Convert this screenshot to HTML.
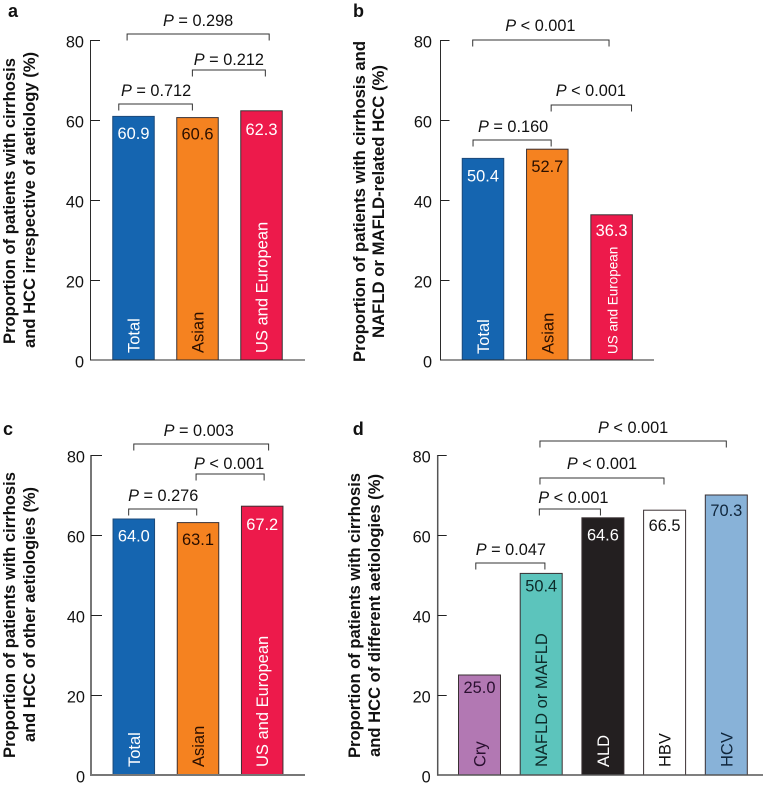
<!DOCTYPE html>
<html lang="en">
<head>
<meta charset="utf-8">
<title>Proportion of patients with cirrhosis and HCC</title>
<style>
html,body{margin:0;padding:0;background:#fff;}
svg{display:block;font-family:"Liberation Sans",Arial,sans-serif;}
</style>
</head>
<body>
<svg id="chart" xmlns="http://www.w3.org/2000/svg" width="763" height="788" viewBox="0 0 763 788"></svg>
<script>
const yTicks = [0, 20, 40, 60, 80];

const aCategories = ["Total", "Asian", "US and European"];
const aValues = [60.9, 60.6, 62.3];
const aValueLabels = ["60.9", "60.6", "62.3"];
const aPLabels = ["P = 0.298", "P = 0.212", "P = 0.712"];
const aBracketFrom = [-0.10, 0.92, -0.23];
const aBracketTo = [2.12, 2.06, 0.92];
const aBracketLevel = [81.5, 72.5, 64];

const bCategories = ["Total", "Asian", "US and European"];
const bValues = [50.4, 52.7, 36.3];
const bValueLabels = ["50.4", "52.7", "36.3"];
const bPLabels = ["P < 0.001", "P < 0.001", "P = 0.160"];
const bBracketFrom = [-0.16, 1.06, -0.155];
const bBracketTo = [1.96, 2.31, 1.06];
const bBracketLevel = [80, 63.75, 55];

const cCategories = ["Total", "Asian", "US and European"];
const cValues = [64.0, 63.1, 67.2];
const cValueLabels = ["64.0", "63.1", "67.2"];
const cPLabels = ["P = 0.003", "P < 0.001", "P = 0.276"];
const cBracketFrom = [0.0, 0.97, -0.08];
const cBracketTo = [2.1, 2.03, 0.98];
const cBracketLevel = [82.75, 75.25, 66.5];

const dCategories = ["Cry", "NAFLD or MAFLD", "ALD", "HBV", "HCV"];
const dValues = [25.0, 50.4, 64.3, 66.2, 70.0];
const dValueLabels = ["25.0", "50.4", "64.6", "66.5", "70.3"];
const dPLabels = ["P < 0.001", "P < 0.001", "P < 0.001", "P = 0.047"];
const dBracketFrom = [0.98, 0.98, 0.97, -0.06];
const dBracketTo = [4.0, 2.99, 1.96, 1.06];
const dBracketLevel = [83.5, 74.25, 66.5, 53];

const NS = "http://www.w3.org/2000/svg";
const root = document.getElementById("chart");

function make(tag, attrs, parent) {
  const el = document.createElementNS(NS, tag);
  for (const k in attrs) el.setAttribute(k, attrs[k]);
  (parent || root).appendChild(el);
  return el;
}

function addPText(parent, label, attrs) {
  const t = make("text", attrs, parent);
  const tsp = make("tspan", { "font-style": "italic" }, t);
  tsp.textContent = label.charAt(0);
  t.appendChild(document.createTextNode(label.slice(1)));
  return t;
}

const panels = [
  {
    id: "a", letterX: 8, letterY: 17,
    axisX: 90.5, axisEnd: 305, y0: 360, tickLen: 9.5, axisColor: "#2b2b2b", axisWidth: 1,
    labelRight: 84, center: 133.5, step: 64, barW: 41.5,
    colors: ["#1565b0", "#f58220", "#ed1a4b"],
    textColors: ["#ffffff", "#2a0f00", "#ffffff"],
    inBarFont: [16.5, 16.5, 16.5], inBarBottom: 353,
    valueOffsets: [22.5, 22, 24],
    categories: aCategories, values: aValues, valueLabels: aValueLabels,
    pLabels: aPLabels, from: aBracketFrom, to: aBracketTo, level: aBracketLevel,
    pGaps: [8, 5, 8], pShift: [0, 0, 0.5],
    titles: ["Proportion of patients with cirrhosis", "and HCC irrespective of aetiology (%)"],
    titleX: [15, 35], titleBottom: [344, 348], titleLen: [286, 296]
  },
  {
    id: "b", letterX: 353, letterY: 17,
    axisX: 440.5, axisEnd: 654, y0: 360, tickLen: 9, axisColor: "#2b2b2b", axisWidth: 1,
    labelRight: 432, center: 483, step: 64.3, barW: 41.5,
    colors: ["#1565b0", "#f58220", "#ed1a4b"],
    textColors: ["#ffffff", "#2a0f00", "#ffffff"],
    inBarFont: [16.5, 16.5, 13.5], inBarBottom: 354,
    valueOffsets: [23, 23, 21],
    categories: bCategories, values: bValues, valueLabels: bValueLabels,
    pLabels: bPLabels, from: bBracketFrom, to: bBracketTo, level: bBracketLevel,
    pGaps: [9, 9, 8], pShift: [-0.5, -0.5, 1],
    titles: ["Proportion of patients with cirrhosis and", "NAFLD or MAFLD-related HCC (%)"],
    titleX: [365, 384], titleBottom: [362, 338], titleLen: [321, 273]
  },
  {
    id: "c", letterX: 3, letterY: 435,
    axisX: 91, axisEnd: 305, y0: 775, tickLen: 11, axisColor: "#777777", axisWidth: 2,
    labelRight: 85, center: 133.8, step: 64.2, barW: 41.5,
    colors: ["#1565b0", "#f58220", "#ed1a4b"],
    textColors: ["#ffffff", "#2a0f00", "#ffffff"],
    inBarFont: [16.5, 16.5, 16.5], inBarBottom: 767,
    valueOffsets: [22.7, 22.4, 24],
    categories: cCategories, values: cValues, valueLabels: cValueLabels,
    pLabels: cPLabels, from: cBracketFrom, to: cBracketTo, level: cBracketLevel,
    pGaps: [8, 5, 8], pShift: [-2.5, -1, 0.5],
    titles: ["Proportion of patients with cirrhosis", "and HCC of other aetiologies (%)"],
    titleX: [15, 35], titleBottom: [758, 742], titleLen: [286, 255]
  },
  {
    id: "d", letterX: 352.7, letterY: 435,
    axisX: 437.7, axisEnd: 763, y0: 775, tickLen: 9, axisColor: "#555555", axisWidth: 1.5,
    labelRight: 430.7, center: 479.5, step: 61.7, barW: 42,
    colors: ["#b278b3", "#5cc4bc", "#231f20", "#ffffff", "#88b2d8"],
    textColors: ["#2a1030", "#0d2b2a", "#ffffff", "#111111", "#10263c"],
    inBarFont: [16.5, 16.5, 16.5, 16.5, 16.5], inBarBottom: 767,
    valueOffsets: [18, 18.3, 22.8, 20.7, 20.8],
    categories: dCategories, values: dValues, valueLabels: dValueLabels,
    pLabels: dPLabels, from: dBracketFrom, to: dBracketTo, level: dBracketLevel,
    pGaps: [8, 9, 6, 8], pShift: [0, 0, 3.5, 0.5],
    titles: ["Proportion of patients with cirrhosis", "and HCC of different aetiologies (%)"],
    titleX: [360, 380], titleBottom: [758, 757], titleLen: [285, 283]
  }
];

function drawPanel(p) {
  const g = make("g", {});
  
  

  const yScale = v => p.y0 - v * 4;
  const xScale = i => p.center + i * p.step;

  const letter = make("text", { x: p.letterX, y: p.letterY, "font-size": 18, "font-weight": "bold", fill: "#111" }, g);
  letter.textContent = p.id;
  
  

  p.titles.forEach((line, i) => {
    const t = make("text", {
      transform: "translate(" + p.titleX[i] + "," + p.titleBottom[i] + ") rotate(-90)",
      "font-size": 16.5, "font-weight": "bold", fill: "#111",
      textLength: p.titleLen[i], lengthAdjust: "spacingAndGlyphs"
    }, g);
    t.textContent = line;
    
    
  });

  p.values.forEach((v, i) => {
    const cx = xScale(i);
    const top = yScale(v);
    const bar = make("rect", {
      x: cx - p.barW / 2, y: top, width: p.barW, height: p.y0 - top,
      fill: p.colors[i], stroke: i === 0 && p.id !== "d" ? "#1d4a7a" : "#3a3033", "stroke-width": 1
    }, g);
    
    

    const val = make("text", {
      x: cx, y: top + p.valueOffsets[i], "text-anchor": "middle", "font-size": 16.4, fill: p.textColors[i]
    }, g);
    val.textContent = p.valueLabels[i];
    
    

    const cat = make("text", {
      transform: "translate(" + (cx + 6) + "," + p.inBarBottom + ") rotate(-90)",
      "font-size": p.inBarFont[i], fill: p.textColors[i]
    }, g);
    cat.textContent = p.categories[i];
    
    
  });

  const yAxis = make("line", {
    x1: p.axisX, x2: p.axisX, y1: yScale(80), y2: p.y0 + p.axisWidth / 2,
    stroke: p.axisColor, "stroke-width": p.axisWidth
  }, g);
  
  

  const xAxis = make("line", {
    x1: p.axisX, x2: p.axisEnd, y1: p.y0, y2: p.y0,
    stroke: p.axisColor, "stroke-width": p.axisWidth
  }, g);
  
  

  yTicks.forEach(v => {
    const y = yScale(v);
    if (v > 0) {
      const tick = make("line", {
        x1: p.axisX, x2: p.axisX + p.tickLen, y1: y + 0.5, y2: y + 0.5,
        stroke: "#222", "stroke-width": 1
      }, g);
      
      
    }
    const lab = make("text", {
      x: p.labelRight, y: y + 7.5, "text-anchor": "end", "font-size": 16.3, fill: "#111"
    }, g);
    lab.textContent = String(v);
    
    
  });

  p.pLabels.forEach((label, i) => {
    const x1 = xScale(p.from[i]);
    const x2 = xScale(p.to[i]);
    const y = yScale(p.level[i]);
    const br = make("path", {
      d: "M" + x1 + " " + (y + 6.5) + "V" + y + "H" + x2 + "V" + (y + 6.5),
      fill: "none", stroke: "#333", "stroke-width": 1
    }, g);
    
    

    const t = addPText(g, label, {
      x: (x1 + x2) / 2 + p.pShift[i], y: y - p.pGaps[i],
      "text-anchor": "middle", "font-size": 16.3, fill: "#111"
    });
    
    
  });
}

panels.forEach(drawPanel);
</script>
</body>
</html>
